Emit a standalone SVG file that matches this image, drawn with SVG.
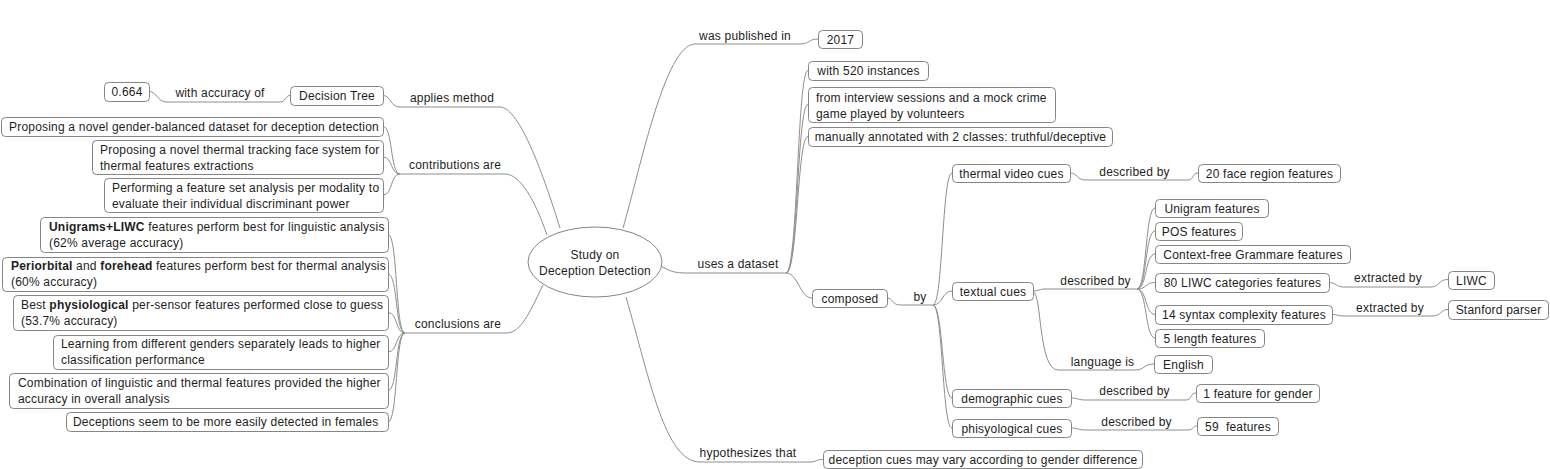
<svg xmlns="http://www.w3.org/2000/svg" width="1550" height="469" viewBox="0 0 1550 469">
<style>
.box{fill:#fff;stroke:#858585;stroke-width:1}
.t{font-family:"Liberation Sans",Arial,sans-serif;font-size:12px;letter-spacing:0.2px;fill:#1e1e1e;white-space:pre}
.m{text-anchor:middle}
.b{font-weight:bold}
.ln{fill:none;stroke:#8e8e8e;stroke-width:1}
</style>
<rect width="1550" height="469" fill="#fff"/>
<g id="connectors">
<path class="ln" d="M149,91.5 C157,91.5 157,102 167,102 L280,102 C286,102 285,95.5 290,95.5"/>
<path class="ln" d="M383,95.5 C391,95.5 390,107 400,107 L500,107 C520,107 545,180 560,228"/>
<path class="ln" d="M383,126.5 C393,126.5 390,174 400,174"/>
<path class="ln" d="M383,157 C393,157 390,174 400,174"/>
<path class="ln" d="M383,195 C393,195 390,174 400,174"/>
<path class="ln" d="M400,174 L505,174 C520,174 535,200 547,235"/>
<path class="ln" d="M388,234.5 C398,234.5 395,333 405,333"/>
<path class="ln" d="M388,274 C398,274 395,333 405,333"/>
<path class="ln" d="M388,312.5 C398,312.5 395,333 405,333"/>
<path class="ln" d="M388,352 C398,352 395,333 405,333"/>
<path class="ln" d="M388,390.5 C398,390.5 395,333 405,333"/>
<path class="ln" d="M388,422 C398,422 395,333 405,333"/>
<path class="ln" d="M405,333 L507,333 C522,333 533,305 543,285"/>
<path class="ln" d="M623,228 C640,170 665,44 695,44 L800,44 C810,44 808,39 818,39"/>
<path class="ln" d="M661,266 C672,273 678,273 690,273 L786,273"/>
<path class="ln" d="M786,273 C798,273 797,70.5 808,70.5"/>
<path class="ln" d="M786,273 C798,273 797,104.5 808,104.5"/>
<path class="ln" d="M786,273 C798,273 797,136.5 808,136.5"/>
<path class="ln" d="M786,273 C798,273 800,298 812,298"/>
<path class="ln" d="M887,298 C893,298 892,305 900,305 L933,305"/>
<path class="ln" d="M933,305 C943,305 942,173 952,173"/>
<path class="ln" d="M933,305 C943,305 942,291 952,291"/>
<path class="ln" d="M933,305 C943,305 942,398 952,398"/>
<path class="ln" d="M933,305 C943,305 942,428 952,428"/>
<path class="ln" d="M1070,173 C1078,173 1076,180 1086,180 L1188,180 C1194,180 1192,173 1198,173"/>
<path class="ln" d="M1033,291 C1039,291 1039,289 1045,289 L1137,289"/>
<path class="ln" d="M1137,289 C1147,289 1145,208 1155,208"/>
<path class="ln" d="M1137,289 C1147,289 1145,231 1155,231"/>
<path class="ln" d="M1137,289 C1147,289 1145,254 1155,254"/>
<path class="ln" d="M1137,289 C1147,289 1145,282.5 1155,282.5"/>
<path class="ln" d="M1137,289 C1147,289 1145,314.5 1155,314.5"/>
<path class="ln" d="M1137,289 C1147,289 1145,338 1155,338"/>
<path class="ln" d="M1329,282.5 C1336,282.5 1336,287 1344,287 L1430,287 C1440,287 1438,279.5 1448,279.5"/>
<path class="ln" d="M1332,314.5 C1338,314.5 1338,316 1344,316 L1432,316 C1442,316 1440,309.5 1448,309.5"/>
<path class="ln" d="M1033,292 C1042,292 1038,370 1058,370 L1135,370 C1145,370 1143,364 1154,364"/>
<path class="ln" d="M1071,398 C1078,398 1078,400 1086,400 L1186,400 C1192,400 1190,393 1196,393"/>
<path class="ln" d="M1071,428 C1078,428 1078,430 1086,430 L1188,430 C1194,430 1192,426 1197,426"/>
<path class="ln" d="M626,297 C650,380 665,462 700,462 L810,462 C817,462 815,459.5 823,459.5"/>
</g>
<g id="labels">
<text class="t m" x="220" y="97">with accuracy of</text>
<text class="t m" x="452" y="102">applies method</text>
<text class="t m" x="455" y="169">contributions are</text>
<text class="t m" x="458" y="328">conclusions are</text>
<text class="t m" x="745" y="40">was published in</text>
<text class="t m" x="738" y="268">uses a dataset</text>
<text class="t m" x="920" y="301">by</text>
<text class="t m" x="1134.5" y="176">described by</text>
<text class="t m" x="1095.5" y="285">described by</text>
<text class="t m" x="1388" y="282">extracted by</text>
<text class="t m" x="1390" y="312">extracted by</text>
<text class="t m" x="1102.5" y="366">language is</text>
<text class="t m" x="1134.5" y="395">described by</text>
<text class="t m" x="1136.5" y="426">described by</text>
<text class="t m" x="748" y="457">hypothesizes that</text>
</g>
<g id="root">
<ellipse class="box" cx="595" cy="262" rx="67" ry="35"/>
<text class="t m" x="595" y="259">Study on</text>
<text class="t m" x="595" y="275">Deception Detection</text>
</g>
<g id="n-0664"><rect class="box" x="104.5" y="82.5" width="45" height="19" rx="4"/><text class="t m" x="127" y="96">0.664</text></g>
<g id="n-dt"><rect class="box" x="290.5" y="86.5" width="93" height="19" rx="4"/><text class="t m" x="337" y="100">Decision Tree</text></g>
<g id="n-c1"><rect class="box" x="1.5" y="117.5" width="382" height="19" rx="4"/><text class="t" x="9" y="131">Proposing a novel gender-balanced dataset for deception detection</text></g>
<g id="n-c2"><rect class="box" x="92.5" y="140.5" width="291" height="34" rx="4"/><text class="t" x="100" y="154">Proposing a novel thermal tracking face system for</text><text class="t" x="100" y="170">thermal features extractions</text></g>
<g id="n-c3"><rect class="box" x="104.5" y="178.5" width="279" height="34" rx="4"/><text class="t" x="112" y="192">Performing a feature set analysis per modality to</text><text class="t" x="112" y="208">evaluate their individual discriminant power</text></g>
<g id="n-k1"><rect class="box" x="40.5" y="217.5" width="348" height="35" rx="4"/><text class="t" x="49" y="231"><tspan class="b">Unigrams+LIWC</tspan> features perform best for linguistic analysis</text><text class="t" x="49" y="247">(62% average accuracy)</text></g>
<g id="n-k2"><rect class="box" x="2.5" y="257.5" width="386" height="34" rx="4"/><text class="t" x="11" y="270"><tspan class="b">Periorbital</tspan> and <tspan class="b">forehead</tspan> features perform best for thermal analysis</text><text class="t" x="11" y="286">(60% accuracy)</text></g>
<g id="n-k3"><rect class="box" x="13.5" y="295.5" width="375" height="35" rx="4"/><text class="t" x="21" y="309">Best <tspan class="b">physiological</tspan> per-sensor features performed close to guess</text><text class="t" x="21" y="325">(53.7% accuracy)</text></g>
<g id="n-k4"><rect class="box" x="53.5" y="335.5" width="335" height="34" rx="4"/><text class="t" x="61" y="348">Learning from different genders separately leads to higher</text><text class="t" x="61" y="364">classification performance</text></g>
<g id="n-k5"><rect class="box" x="9.5" y="373.5" width="379" height="35" rx="4"/><text class="t" x="18" y="387">Combination of linguistic and thermal features provided the higher</text><text class="t" x="18" y="403">accuracy in overall analysis</text></g>
<g id="n-k6"><rect class="box" x="66.5" y="412.5" width="322" height="19" rx="4"/><text class="t" x="73" y="426">Deceptions seem to be more easily detected in females</text></g>
<g id="n-2017"><rect class="box" x="818.5" y="30.5" width="44" height="18" rx="4"/><text class="t m" x="840.5" y="44">2017</text></g>
<g id="n-520"><rect class="box" x="808.5" y="61.5" width="120" height="19" rx="4"/><text class="t m" x="868.5" y="75">with 520 instances</text></g>
<g id="n-interview"><rect class="box" x="808.5" y="87.5" width="247" height="35" rx="4"/><text class="t" x="816" y="102">from interview sessions and a mock crime</text><text class="t" x="816" y="118">game played by volunteers</text></g>
<g id="n-annot"><rect class="box" x="808.5" y="127.5" width="304" height="19" rx="4"/><text class="t m" x="960.5" y="141">manually annotated with 2 classes: truthful/deceptive</text></g>
<g id="n-composed"><rect class="box" x="812.5" y="289.5" width="75" height="18" rx="4"/><text class="t m" x="850" y="303">composed</text></g>
<g id="n-thermal"><rect class="box" x="952.5" y="164.5" width="118" height="18" rx="4"/><text class="t m" x="1011.5" y="178">thermal video cues</text></g>
<g id="n-face"><rect class="box" x="1198.5" y="164.5" width="142" height="18" rx="4"/><text class="t m" x="1269.5" y="178">20 face region features</text></g>
<g id="n-textual"><rect class="box" x="952.5" y="282.5" width="81" height="18" rx="4"/><text class="t m" x="993" y="296">textual cues</text></g>
<g id="n-unigram"><rect class="box" x="1155.5" y="199.5" width="113" height="18" rx="4"/><text class="t m" x="1212" y="213">Unigram features</text></g>
<g id="n-pos"><rect class="box" x="1155.5" y="222.5" width="87" height="18" rx="4"/><text class="t m" x="1199" y="236">POS features</text></g>
<g id="n-cfg"><rect class="box" x="1155.5" y="245.5" width="195" height="18" rx="4"/><text class="t m" x="1253" y="259">Context-free Grammare features</text></g>
<g id="n-liwc80"><rect class="box" x="1155.5" y="273.5" width="174" height="19" rx="4"/><text class="t m" x="1242.5" y="287">80 LIWC categories features</text></g>
<g id="n-syntax"><rect class="box" x="1155.5" y="305.5" width="177" height="19" rx="4"/><text class="t m" x="1244" y="319">14 syntax complexity features</text></g>
<g id="n-length"><rect class="box" x="1155.5" y="329.5" width="109" height="18" rx="4"/><text class="t m" x="1210" y="343">5 length features</text></g>
<g id="n-liwc"><rect class="box" x="1448.5" y="271.5" width="46" height="18" rx="4"/><text class="t m" x="1471.5" y="285">LIWC</text></g>
<g id="n-stanford"><rect class="box" x="1448.5" y="300.5" width="100" height="19" rx="4"/><text class="t m" x="1498.5" y="314">Stanford parser</text></g>
<g id="n-english"><rect class="box" x="1154.5" y="355.5" width="58" height="18" rx="4"/><text class="t m" x="1183.5" y="369">English</text></g>
<g id="n-demo"><rect class="box" x="952.5" y="389.5" width="119" height="18" rx="4"/><text class="t m" x="1012" y="403">demographic cues</text></g>
<g id="n-gender"><rect class="box" x="1196.5" y="384.5" width="123" height="18" rx="4"/><text class="t m" x="1258" y="398">1 feature for gender</text></g>
<g id="n-phys"><rect class="box" x="952.5" y="419.5" width="119" height="18" rx="4"/><text class="t m" x="1012" y="433">phisyological cues</text></g>
<g id="n-59"><rect class="box" x="1197.5" y="417.5" width="81" height="18" rx="4"/><text class="t m" x="1238" y="431">59  features</text></g>
<g id="n-hyp"><rect class="box" x="823.5" y="450.5" width="319" height="18" rx="4"/><text class="t m" x="983" y="464">deception cues may vary according to gender difference</text></g>
</svg>
